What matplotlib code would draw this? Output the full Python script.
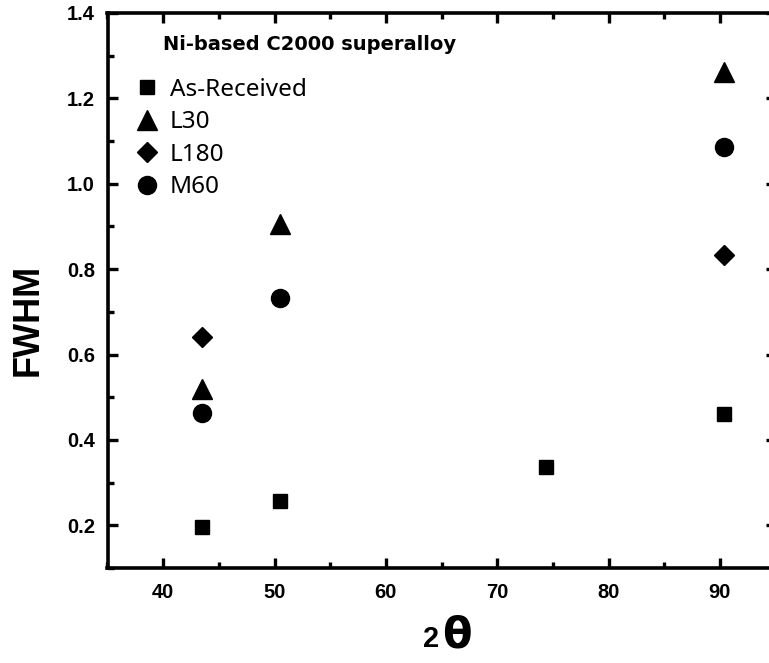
import matplotlib
matplotlib.use("Agg")
import matplotlib.pyplot as plt
from matplotlib.ticker import MultipleLocator

# data
x_ar = [43.5, 50.5, 74.4, 90.4]
y_ar = [0.196, 0.256, 0.336, 0.461]
x_l30 = [43.5, 50.5, 90.4]
y_l30 = [0.52, 0.905, 1.262]
x_l180 = [43.5, 90.4]
y_l180 = [0.641, 0.832]
x_m60 = [43.5, 50.5, 90.4]
y_m60 = [0.464, 0.732, 1.087]

xticks = [40, 50, 60, 70, 80, 90]
yticks = [0.2, 0.4, 0.6, 0.8, 1.0, 1.2, 1.4]

W, H = 769, 663
fig = plt.figure(figsize=(W / 100, H / 100), dpi=100)
ax = fig.add_axes([107.5 / W, 1 - 568 / H, 668 / W, 555 / H])

ax.plot(x_ar, y_ar, ls="none", marker="s", ms=10, color="black", label="As-Received")
ax.plot(x_l30, y_l30, ls="none", marker="^", ms=14, color="black", label="L30")
ax.plot(x_l180, y_l180, ls="none", marker="D", ms=10, color="black", label="L180")
ax.plot(x_m60, y_m60, ls="none", marker="o", ms=13, color="black", label="M60")

ax.set_xlim(35, 95)
ax.set_ylim(0.1, 1.4)
ax.xaxis.set_minor_locator(MultipleLocator(5))
ax.yaxis.set_minor_locator(MultipleLocator(0.1))
ax.set_xticks(xticks)
ax.set_xticklabels([str(v) for v in xticks], family="Liberation Sans", weight="bold")
ax.set_yticks(yticks)
ax.set_yticklabels(["%.1f" % v for v in yticks], family="Liberation Sans", weight="bold")
ax.tick_params(which="both", direction="in", top=True, right=True, width=2.4)
ax.tick_params(which="major", length=7.5, labelsize=14.5)
ax.tick_params(axis="x", which="major", pad=11)
ax.tick_params(axis="y", which="major", pad=9)
ax.tick_params(which="minor", length=4.5)
for s in ax.spines.values():
    s.set_linewidth(2.6)

ax.text(0.083, 0.943, "Ni-based C2000 superalloy", transform=ax.transAxes,
        family="DejaVu Sans", weight="bold", fontsize=14, va="center", ha="left")
ax.legend(loc="upper left", bbox_to_anchor=(0.0405, 0.883), frameon=False, borderpad=0,
          prop={"family": "Noto Sans", "size": 17.5}, handlelength=1.0, handletextpad=0.45,
          labelspacing=0.35, borderaxespad=0)

fig.text(28 / W, 1 - 320 / H, "FWHM", rotation=90, ha="center", va="center",
         family="Liberation Sans", weight="bold", fontsize=26)
fig.text(431 / W, 1 - 639 / H, "2", ha="center", va="center",
         family="Liberation Sans", weight="bold", fontsize=21)
fig.text(457 / W, 1 - 636 / H, "θ", ha="center", va="center",
         family="DejaVu Sans", weight="bold", fontsize=31)

fig.savefig("out.png", dpi=100)
